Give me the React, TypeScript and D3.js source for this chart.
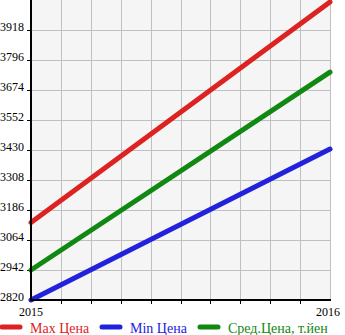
import React from "react";
import * as d3 from "d3";

const years = ["2015", "2016"];
const yTicks = [2820, 2942, 3064, 3186, 3308, 3430, 3552, 3674, 3796, 3918];
const maxPrice = [3135, 4032];
const minPrice = [2820, 3434];
const avgPrice = [2942, 3747];
const seriesNames = ["Max Цена", "Min Цена", "Сред.Цена, т.йен"];
const seriesColors = ["#dd2222", "#2222dd", "#118811"];

export default function App() {
  const W = 345, H = 335;
  const left = 31, right = 330, top = 0, bottom = 300;
  const x = d3.scaleLinear().domain([0, 1]).range([left, right]);
  const y = d3.scaleLinear().domain([2820, 4040]).range([bottom, top]);
  const xGrid = d3.range(1, 10).map((i) => i / 10);
  const line = d3.line<number>().x((_, i) => x(i)).y((d) => y(d));
  const series = [maxPrice, minPrice, avgPrice];
  const legendX = [0, 100, 198];
  const font = "'Liberation Serif', 'Times New Roman', serif";
  return (
    <svg width={W} height={H} style={{ position: "absolute", left: 0, top: 0 }}>
      <rect x={left} y={top} width={right - left} height={bottom - top} fill="#f5f5f5" />
      {xGrid.map((g) => (
        <line key={"vx" + g} x1={Math.round(x(g)) + 0.5} x2={Math.round(x(g)) + 0.5} y1={top} y2={bottom} stroke="#c0c0c0" strokeWidth={1} />
      ))}
      <line x1={right + 0.5} x2={right + 0.5} y1={top} y2={bottom} stroke="#c0c0c0" />
      {yTicks.slice(1).map((t) => (
        <line key={"hy" + t} x1={left} x2={right} y1={Math.round(y(t)) + 0.5} y2={Math.round(y(t)) + 0.5} stroke="#c0c0c0" />
      ))}
      {yTicks.slice(1).map((t) => (
        <line key={"ty" + t} x1={left - 4} x2={left} y1={Math.round(y(t)) + 0.5} y2={Math.round(y(t)) + 0.5} stroke="#000" />
      ))}
      {xGrid.map((g) => (
        <line key={"tx" + g} x1={Math.round(x(g)) + 0.5} x2={Math.round(x(g)) + 0.5} y1={bottom} y2={bottom + 4} stroke="#000" />
      ))}
      {series.map((s, i) => (
        <path key={i} d={line(s) || ""} fill="none" stroke={seriesColors[i]} strokeWidth={5} strokeLinecap="round" />
      ))}
      <line x1={left} x2={left} y1={top} y2={bottom + 1} stroke="#000" strokeWidth={2} />
      <line x1={left - 1} x2={right + 1} y1={bottom} y2={bottom} stroke="#000" strokeWidth={2} />
      {yTicks.map((t) => (
        <text key={"l" + t} x={24} y={y(t) + 1} textAnchor="end" fontFamily={font} fontSize={12} fill="#000">
          {t}
        </text>
      ))}
      <text x={x(0)} y={316} textAnchor="middle" fontFamily={font} fontSize={12}>{years[0]}</text>
      <text x={340} y={316} textAnchor="end" fontFamily={font} fontSize={12}>{years[1]}</text>
      {seriesNames.map((n, i) => (
        <g key={n}>
          <line x1={legendX[i] + 2} x2={legendX[i] + 20} y1={327} y2={327} stroke={seriesColors[i]} strokeWidth={5} strokeLinecap="round" />
          <text x={legendX[i] + 30} y={333} fontFamily={font} fontSize={14} fill={seriesColors[i]}>{n}</text>
        </g>
      ))}
    </svg>
  );
}
